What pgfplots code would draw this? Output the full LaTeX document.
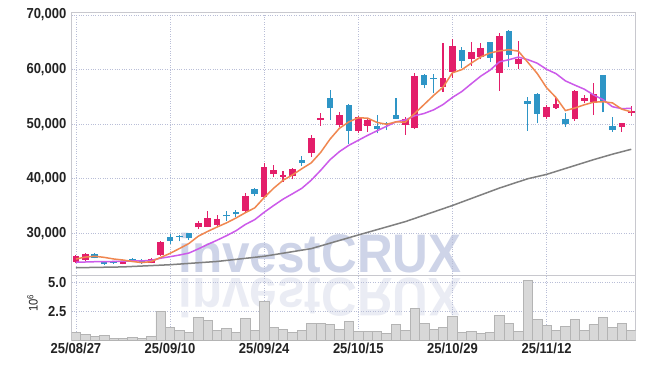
\documentclass[border=0pt]{standalone}
\usepackage{fontspec}
\setmainfont{Liberation Sans}
\newfontfamily\tickfont{Liberation Sans}[FakeStretch=0.9]
\newfontfamily\wmfont{Liberation Sans}[FakeStretch=0.91]
\usepackage{pgfplots}
\pgfplotsset{compat=1.18}
\usepackage{pgfplotstable}

\definecolor{upc}{RGB}{227,30,106}
\definecolor{dnc}{RGB}{46,149,198}
\definecolor{maf}{RGB}{240,135,80}
\definecolor{mat}{RGB}{204,90,234}
\definecolor{mal}{RGB}{128,128,128}
\definecolor{gridc}{RGB}{185,190,215}
\definecolor{framec}{RGB}{200,200,206}
\definecolor{volf}{RGB}{216,216,216}
\definecolor{vole}{RGB}{180,180,180}
\definecolor{wm}{RGB}{206,212,232}
\definecolor{wmr}{RGB}{234,236,244}
\definecolor{txt}{RGB}{35,35,35}

\pgfplotstableread{
i o h l c
0 24750 26000 24600 25850
1 25120 26450 25000 26215
5 24440 25000 24300 24880
8 24620 25400 24500 25240
9 25980 28650 25900 28410
13 31110 32320 30740 31950
14 31220 34040 31160 32810
15 31580 33360 31110 32630
18 34090 37340 34000 36840
20 36710 42830 36600 42100
21 40870 42470 40270 41600
22 40380 41480 39410 40750
23 40560 42030 39900 41790
25 44660 47960 44040 47470
26 50820 51990 49670 51180
28 49900 52230 49540 51740
30 48800 51500 48440 51260
31 49720 51000 48620 50760
35 49900 51260 48020 51000
36 49350 59320 49170 58825
39 56750 64920 55950 58460
40 59610 65550 58400 64320
42 61940 65110 60710 63220
43 62250 64820 61900 63900
45 59430 66650 56080 66150
47 61080 65180 60050 61940
50 51260 53510 50950 53090
51 53020 54850 52780 53700
53 50950 56200 50640 56080
54 54250 55340 53820 54850
55 54060 57490 51680 55530
58 49540 50300 48620 50270
59 52050 53380 51550 52420
}\uptab

\pgfplotstableread{
i o h l c
2 26200 26400 25400 25540
3 24750 24900 24200 24330
4 24800 25000 24400 24600
6 25350 25500 24750 24880
7 25170 25300 24400 24510
10 29270 29880 28100 28600
11 29510 29750 28540 29330
12 30000 30100 28780 29090
16 33410 34040 32320 33120
17 33850 34280 33050 33490
19 38120 38360 36840 37260
24 43490 44170 42340 42940
27 54790 56260 50760 52960
29 53510 53700 46370 48750
32 49670 51680 48330 49060
33 50270 50450 48930 50030
34 51730 54740 51000 51000
37 59010 59190 56570 57230
38 58510 59190 55660 58280
41 63590 64080 60240 61630
44 65000 65000 61390 62180
46 67070 67250 60420 62730
48 54190 55030 48750 53750
49 55530 55710 50160 51920
52 50890 51990 49540 49980
56 59000 59000 52180 54120
57 49720 51260 48620 48930
}\dntab

\pgfplotstableread{
i v
0 25300
1 25650
2 25800
3 25600
4 25307
5 25113
6 24846
7 24640
8 24822
9 25584
10 26328
11 27218
12 28134
13 29476
14 30356
15 31162
16 31920
17 32802
18 33778
19 34668
20 36562
21 38258
22 39710
23 40700
24 41836
25 42910
26 44826
27 47268
28 49258
29 50420
30 51178
31 51094
32 50314
33 49972
34 50422
35 50370
36 51983
37 53617
38 55267
39 56759
40 59423
41 59984
42 61182
43 62306
44 63050
45 63416
46 63636
47 63380
48 61350
49 59298
50 56686
51 54880
52 52488
53 52954
54 53540
55 54028
56 54112
57 53902
58 52740
59 52254
}\mafive

\pgfplotstableread{
i v
0 24700
1 24750
2 24800
3 24800
4 24850
5 24900
6 24950
7 24950
8 25050
9 25446
10 25721
11 26032
12 26387
13 27149
14 27970
15 28745
16 29569
17 30467
18 31627
19 32512
20 33862
21 35089
22 36255
23 37239
24 38252
25 39736
26 41542
27 43489
28 44979
29 46128
30 47044
31 47960
32 48791
33 49615
34 50421
35 50774
36 51539
37 51966
38 52620
39 53591
40 54897
41 55984
42 57400
43 58787
44 59905
45 61420
46 61810
47 62281
48 61828
49 61174
50 60051
51 59258
52 57934
53 57152
54 56419
55 55357
56 54496
57 53195
58 52847
59 52897
}\maten

\pgfplotstableread{
i v
0 23700
5 23850
10 24250
15 24850
20 25800
25 27200
30 29700
35 32150
40 35100
45 38300
48 40000
50 40800
55 43500
57 44500
59 45400
}\malong

\pgfplotstableread{
i v
0 0.72
1 0.52
2 0.34
3 0.43
4 0.17
5 0.17
6 0.26
7 0.17
8 0.34
9 2.50
10 1.12
11 0.86
12 0.72
13 1.98
14 1.72
15 0.86
16 1.03
17 0.72
18 1.90
19 0.86
20 3.36
21 1.12
22 0.95
23 0.72
24 0.86
25 1.47
26 1.47
27 1.38
28 0.95
29 1.64
30 0.78
31 0.78
32 0.78
33 0.60
34 1.38
35 0.86
36 2.76
37 1.47
38 0.95
39 1.12
40 2.07
41 0.69
42 0.78
43 0.60
44 0.69
45 2.16
46 1.47
47 0.78
48 5.17
49 1.81
50 1.29
51 0.86
52 1.21
53 1.81
54 0.86
55 1.38
56 1.98
57 1.12
58 1.47
59 0.86
}\voltab

\pgfplotsset{
  common/.style={
    scale only axis, width=564bp,
    xmin=-0.47, xmax=59.45,
    axis line style={framec, line width=0.8bp},
    xtick={0,10,20,30,40,50},
    major tick length=0pt,
    xmajorgrids, ymajorgrids,
    grid style={dotted, gridc, line width=0.8bp},
    yticklabel style={font=\tickfont\bfseries\fontsize{14.5}{16}\selectfont, text=txt, inner sep=0pt, xshift=-5bp},
    xticklabel style={font=\tickfont\bfseries\fontsize{14.5}{16}\selectfont, text=txt, inner sep=0pt, yshift=-2.5bp},
    /pgf/number format/assume math mode=true,
    /pgf/number format/1000 sep={,},
    scaled y ticks=false,
  },
}

\begin{document}
\begin{tikzpicture}[x=1bp,y=1bp]
\useasboundingbox (0,0) rectangle (645,369);
\fill[white] (0,0) rectangle (645,369);
\node[anchor=base, text=wm, inner sep=0pt, font=\wmfont\bfseries\fontsize{54.5}{56}\selectfont] at (320,97) {investCRUX};
\node[anchor=base, yscale=-1, text=wmr, inner sep=0pt, font=\wmfont\bfseries\fontsize{54.5}{56}\selectfont] at (320,91) {investCRUX};

\begin{axis}[common,
  at={(71.5bp,93.3bp)}, anchor=south west, height=263bp,
  ymin=22240, ymax=70420,
  ytick={30000,40000,50000,60000,70000},
  xticklabels={},
]
% wicks
\addplot[draw=none, mark=none, forget plot, error bars/.cd, y dir=plus, y explicit, error mark=none,
  error bar style={draw=upc, line width=1.1bp, solid}]
  table[x=i, y=l, y error plus expr=\thisrow{h}-\thisrow{l}] {\uptab};
\addplot[draw=none, mark=none, forget plot, error bars/.cd, y dir=plus, y explicit, error mark=none,
  error bar style={draw=dnc, line width=1.1bp, solid}]
  table[x=i, y=l, y error plus expr=\thisrow{h}-\thisrow{l}] {\dntab};
% bodies
\addplot[draw=none, mark=none, forget plot, error bars/.cd, y dir=plus, y explicit, error mark=none,
  error bar style={draw=upc, line width=6.6bp, solid}]
  table[x=i, y=o, y error plus expr=\thisrow{c}-\thisrow{o}] {\uptab};
\addplot[draw=none, mark=none, forget plot, error bars/.cd, y dir=plus, y explicit, error mark=none,
  error bar style={draw=dnc, line width=6.6bp, solid}]
  table[x=i, y=c, y error plus expr=\thisrow{o}-\thisrow{c}] {\dntab};
% moving averages
\addplot[mal, line width=1.5bp, mark=none] table[x=i, y=v] {\malong};
\addplot[mat, line width=1.5bp, mark=none] table[x=i, y=v] {\maten};
\addplot[maf, line width=1.5bp, mark=none] table[x=i, y=v] {\mafive};
\end{axis}

\begin{axis}[common,
  at={(71.5bp,28.3bp)}, anchor=south west, height=65bp,
  ymin=0, ymax=5.6,
  ytick={2.5,5}, yticklabels={2.5,5.0},
  xticklabels={25/08/27,25/09/10,25/09/24,25/10/15,25/10/29,25/11/12},
]
\addplot[ybar, bar width=1, fill=volf, draw=vole, line width=0.7bp] table[x=i, y=v] {\voltab};
\end{axis}

\node[rotate=90, text=txt, inner sep=0pt, font=\tickfont\fontsize{12.5}{14}\selectfont] at (32.5,66) {10\textsuperscript{6}};
\end{tikzpicture}
\end{document}
